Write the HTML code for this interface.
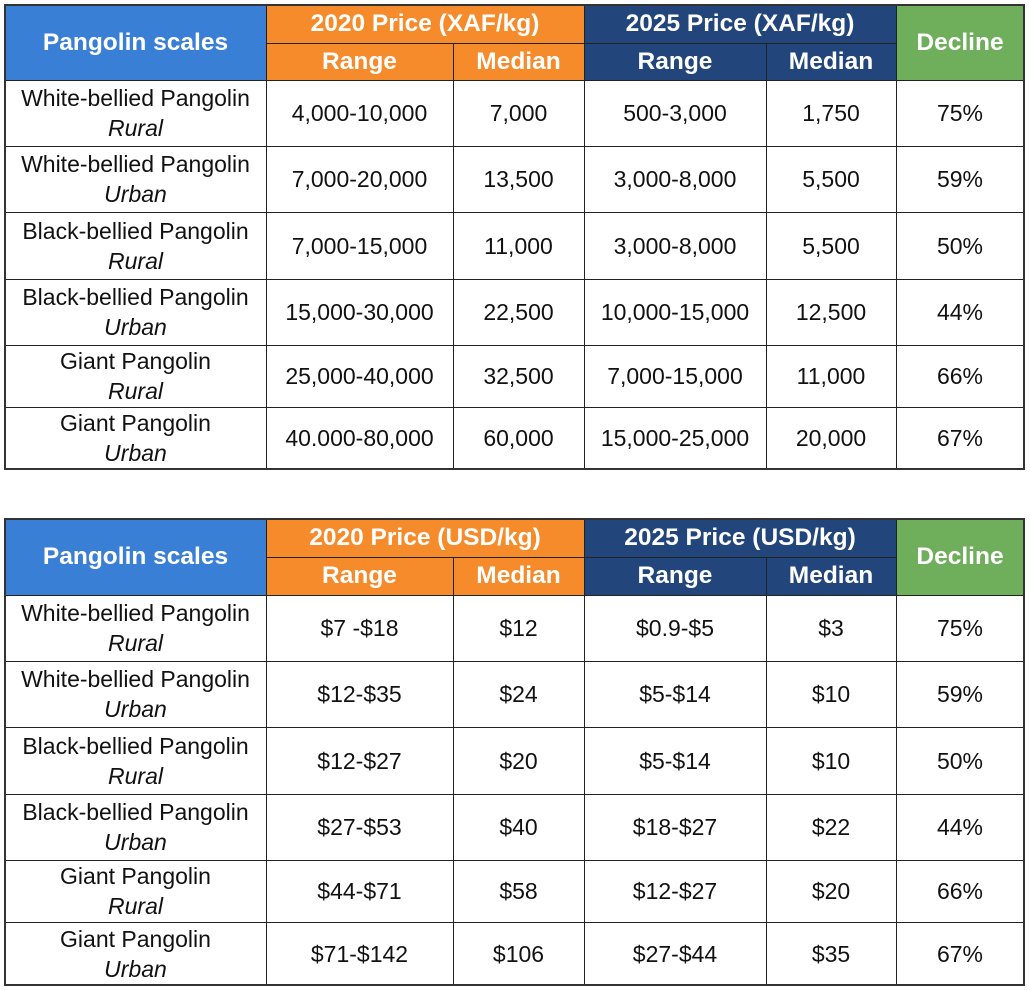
<!DOCTYPE html>
<html><head><meta charset="utf-8">
<style>
html,body{margin:0;padding:0;background:#fff;width:1030px;height:990px;overflow:hidden}
body{position:relative;font-family:"Liberation Sans",sans-serif}
.c{position:absolute;box-sizing:border-box;display:flex;flex-direction:column;align-items:center;justify-content:center;text-align:center;border:1px solid #222;margin:-0.5px 0 0 -0.5px;font-size:23px;color:#111;line-height:30px;white-space:nowrap}
.h{color:#fff;font-weight:bold;font-size:24.5px;line-height:26px}
.frame{position:absolute;border:2px solid #333;box-sizing:border-box;pointer-events:none}
i{font-style:italic}
</style></head><body>
<script>
const colX=[5,266,453,584,766,896,1024];
const rowsA=[5,43,80,146,212,279,345,407,469];
const rowsB=[519,557,595,661,727,794,860,922,985];
const species=["White-bellied Pangolin","White-bellied Pangolin","Black-bellied Pangolin","Black-bellied Pangolin","Giant Pangolin","Giant Pangolin"];
const areas=["Rural","Urban","Rural","Urban","Rural","Urban"];
const xafRange20=["4,000-10,000","7,000-20,000","7,000-15,000","15,000-30,000","25,000-40,000","40.000-80,000"];
const xafMed20=["7,000","13,500","11,000","22,500","32,500","60,000"];
const xafRange25=["500-3,000","3,000-8,000","3,000-8,000","10,000-15,000","7,000-15,000","15,000-25,000"];
const xafMed25=["1,750","5,500","5,500","12,500","11,000","20,000"];
const usdRange20=["$7 -$18","$12-$35","$12-$27","$27-$53","$44-$71","$71-$142"];
const usdMed20=["$12","$24","$20","$40","$58","$106"];
const usdRange25=["$0.9-$5","$5-$14","$5-$14","$18-$27","$12-$27","$27-$44"];
const usdMed25=["$3","$10","$10","$22","$20","$35"];
const decline=["75%","59%","50%","44%","66%","67%"];

function cell(x0,x1,y0,y1,html,bg,cls,name){
  const d=document.createElement('div');
  d.className='c '+(cls||'');
  d.style.left=x0+'px';d.style.top=y0+'px';
  d.style.width=(x1-x0+1)+'px';d.style.height=(y1-y0+1)+'px';
  if(bg)d.style.background=bg;
  d.innerHTML=html;
  
  
  document.body.appendChild(d);
}
function table(rows,unit,r20,m20,r25,m25,prefix){
  const BL='#3A7FD6',OR='#F68B2B',NV='#22457B',GR='#6FAE5B';
  cell(colX[0],colX[1],rows[0],rows[2],'Pangolin scales',BL,'h',prefix+'-species-header');
  cell(colX[1],colX[3],rows[0],rows[1],'2020 Price ('+unit+'/kg)',OR,'h',prefix+'-2020-header');
  cell(colX[1],colX[2],rows[1],rows[2],'Range',OR,'h',prefix+'-2020-range-header');
  cell(colX[2],colX[3],rows[1],rows[2],'Median',OR,'h',prefix+'-2020-median-header');
  cell(colX[3],colX[5],rows[0],rows[1],'2025 Price ('+unit+'/kg)',NV,'h',prefix+'-2025-header');
  cell(colX[3],colX[4],rows[1],rows[2],'Range',NV,'h',prefix+'-2025-range-header');
  cell(colX[4],colX[5],rows[1],rows[2],'Median',NV,'h',prefix+'-2025-median-header');
  cell(colX[5],colX[6],rows[0],rows[2],'Decline',GR,'h',prefix+'-decline-header');
  for(let i=0;i<6;i++){
    const y0=rows[i+2],y1=rows[i+3];
    cell(colX[0],colX[1],y0,y1,'<span>'+species[i]+'</span><i>'+areas[i]+'</i>','#fff','',prefix+'-row'+i+'-species');
    cell(colX[1],colX[2],y0,y1,r20[i],'#fff','',prefix+'-row'+i+'-range-2020');
    cell(colX[2],colX[3],y0,y1,m20[i],'#fff','',prefix+'-row'+i+'-median-2020');
    cell(colX[3],colX[4],y0,y1,r25[i],'#fff','',prefix+'-row'+i+'-range-2025');
    cell(colX[4],colX[5],y0,y1,m25[i],'#fff','',prefix+'-row'+i+'-median-2025');
    cell(colX[5],colX[6],y0,y1,decline[i],'#fff','',prefix+'-row'+i+'-decline');
  }
  const f=document.createElement('div');
  f.className='frame';
  f.style.left=(colX[0]-1)+'px';f.style.top=(rows[0]-1)+'px';
  f.style.width=(colX[6]-colX[0]+2)+'px';f.style.height=(rows[8]-rows[0]+2)+'px';
  
  
  document.body.appendChild(f);
}
table(rowsA,'XAF',xafRange20,xafMed20,xafRange25,xafMed25,'xaf');
table(rowsB,'USD',usdRange20,usdMed20,usdRange25,usdMed25,'usd');
</script>
</body></html>
